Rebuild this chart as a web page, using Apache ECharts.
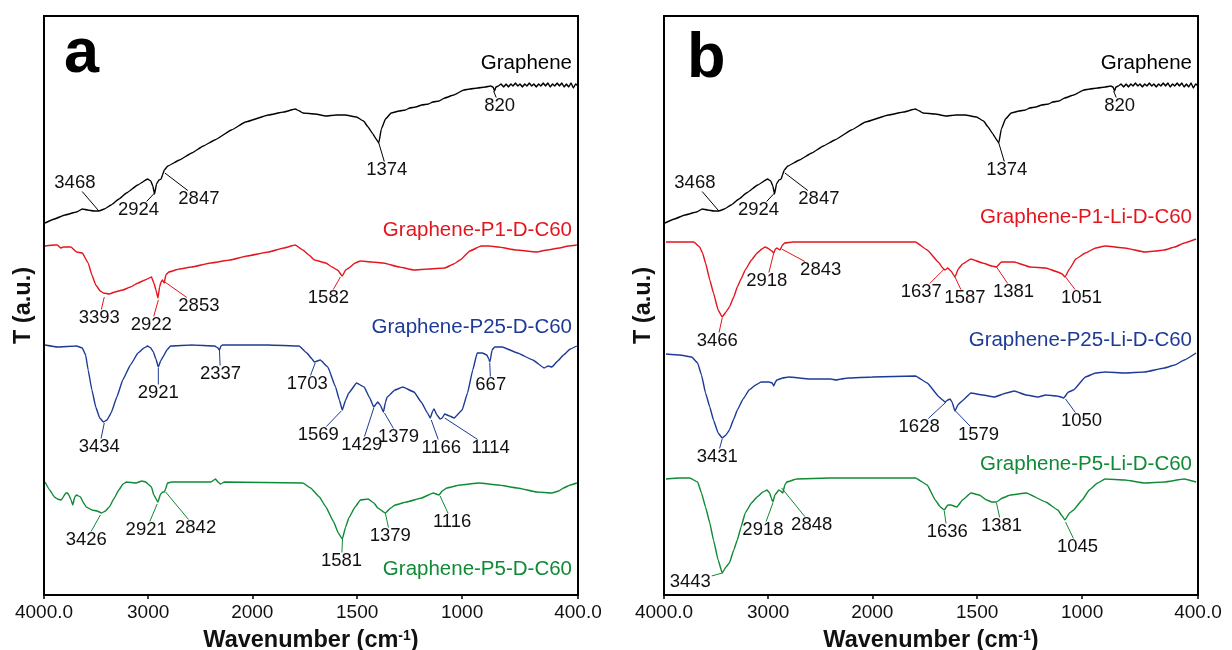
<!DOCTYPE html>
<html>
<head>
<meta charset="utf-8">
<script src="https://cdn.jsdelivr.net/npm/echarts@6/dist/echarts.min.js"></script>
<style>
  html, body { margin: 0; padding: 0; background: #fff; }
  #chart { width: 1232px; height: 650px; }
</style>
</head>
<body>
<div id="chart"></div>
<script>
// wavenumber axis ticks
const tickWaves = [4000, 3000, 2000, 1500, 1000, 400];
const tickLabels = ['4000.0', '3000', '2000', '1500', '1000', '400.0'];

// spectra, [wavenumber (cm-1), T (a.u.)]
const graphene = [
  [3990,372],[3900,376],[3800,380],[3687,383],[3632,386],[3580,385],[3521,384],[3473,384],[3420,386],[3356,390],
  [3280,396],[3208,402],[3100,410],[3005,416],[2975,414],[2955,409],[2938,401],[2920,411],[2895,415],[2875,416],
  [2862,420],[2845,425],[2810,429],[2700,435],[2581,442],[2470,449],[2360,455],[2200,465],[2065,473],[1923,480],
  [1850,483],[1795,486],[1775,484],[1759,482],[1700,481],[1649,479],[1600,480],[1558,480],[1503,478],[1470,474],
  [1448,468],[1425,461],[1410,456],[1397,452],[1385,466],[1365,476],[1338,482],[1300,484],[1270,485],[1250,487],
  [1220,488],[1193,490],[1160,491],[1140,493],[1110,494],[1083,497],[1040,500],[991,505],[960,506],[920,507],
  [880,508],[852,509],[840,508],[832,504],[825,508],[812,509],[798,511],[785,508],[772,511],[760,508],
  [748,511],[736,509],[724,512],[712,509],[700,511],[688,508],[676,511],[664,509],[652,512],[640,509],
  [628,511],[616,508],[604,511],[592,509],[580,512],[568,509],[556,512],[544,508],[532,511],[520,509],
  [508,512],[496,509],[484,512],[472,508],[460,511],[448,508],[436,512],[424,507],[412,511],[400,509]
];
const p1 = [
  [3990,349],[3900,350],[3871,350],[3840,347],[3815,348],[3742,348],[3687,343],[3632,342],[3576,332],[3540,320],
  [3503,310],[3460,304],[3429,302],[3373,301],[3320,303],[3244,305],[3170,308],[3097,312],[3030,315],[2968,318],
  [2945,312],[2925,305],[2905,297],[2890,308],[2876,313],[2862,315],[2846,312],[2830,320],[2802,323],[2700,326],
  [2581,328],[2400,332],[2213,335],[2050,339],[1923,343],[1850,347],[1795,350],[1759,345],[1730,340],[1704,335],
  [1649,332],[1620,328],[1594,325],[1571,319],[1555,325],[1540,327],[1510,332],[1485,334],[1430,333],[1375,332],
  [1300,328],[1229,325],[1160,326],[1083,327],[1040,331],[1010,335],[960,344],[902,349],[860,349],[813,348],
  [720,345],[614,343],[560,345],[496,347],[450,349],[406,350]
];
const p25 = [
  [3990,250],[3871,248],[3687,249],[3632,247],[3600,240],[3576,225],[3540,205],[3503,188],[3465,177],[3429,173],
  [3395,175],[3356,182],[3300,198],[3244,215],[3170,230],[3097,242],[3040,247],[3005,249],[2975,247],[2950,243],
  [2925,236],[2902,228],[2880,234],[2858,238],[2820,245],[2784,249],[2581,250],[2360,249],[2330,247],[2315,245],
  [2300,249],[2286,250],[1923,250],[1777,249],[1740,242],[1715,236],[1704,233],[1676,235],[1640,228],[1603,208],
  [1585,195],[1571,185],[1555,195],[1540,202],[1503,212],[1467,208],[1440,197],[1421,188],[1410,191],[1402,193],
  [1390,190],[1375,183],[1365,193],[1357,198],[1320,205],[1283,208],[1229,203],[1195,193],[1165,182],[1152,177],
  [1140,184],[1134,186],[1120,180],[1105,176],[1095,177],[1083,181],[1060,179],[1038,177],[1000,185],[972,202],
  [945,225],[922,242],[895,242],[872,240],[862,236],[856,233],[845,245],[832,248],[792,248],[713,242],
  [634,235],[575,227],[555,229],[535,228],[505,234],[475,240],[440,246],[406,249]
];
const p5 = [
  [3990,113],[3945,105],[3900,98],[3871,96],[3835,95],[3790,102],[3775,102],[3761,100],[3740,95],[3724,90],
  [3705,98],[3687,100],[3650,98],[3620,92],[3594,88],[3539,85],[3490,84],[3447,82],[3410,84],[3373,88],
  [3330,96],[3282,105],[3240,111],[3208,113],[3116,112],[3060,114],[3023,113],[2990,110],[2968,108],[2945,100],
  [2906,93],[2880,101],[2858,103],[2845,103],[2832,106],[2815,112],[2772,113],[2397,113],[2353,116],[2330,113],
  [2305,111],[2267,113],[1759,112],[1722,107],[1680,98],[1649,88],[1612,73],[1590,62],[1571,56],[1555,68],
  [1540,77],[1510,88],[1485,95],[1448,96],[1420,92],[1402,87],[1366,82],[1340,87],[1320,90],[1265,93],
  [1193,97],[1138,102],[1110,100],[1095,104],[1074,107],[1010,110],[912,112],[813,110],[713,107],[614,103],
  [535,102],[500,104],[475,107],[440,110],[406,112]
];
const p1Li = [
  [3981,353],[3850,353],[3714,353],[3658,348],[3630,342],[3601,332],[3560,315],[3525,302],[3480,285],[3441,278],
  [3405,283],[3372,288],[3330,298],[3296,308],[3260,316],[3220,325],[3160,335],[3106,342],[3060,346],[3030,348],
  [3005,347],[2992,346],[2965,344],[2946,342],[2930,346],[2916,347],[2900,346],[2886,345],[2862,350],[2840,352],
  [2764,353],[2232,353],[1794,353],[1738,345],[1681,332],[1665,327],[1653,325],[1640,327],[1625,324],[1606,318],
  [1590,326],[1570,331],[1530,336],[1474,332],[1430,329],[1408,328],[1385,333],[1323,333],[1248,328],[1173,327],
  [1116,323],[1095,321],[1082,318],[1060,326],[1030,336],[983,342],[930,347],[881,349],[779,347],[676,343],
  [620,344],[574,345],[520,348],[471,352],[410,356]
];
const p25Li = [
  [3981,241],[3850,240],[3734,238],[3677,232],[3640,220],[3601,202],[3560,188],[3525,175],[3480,162],[3441,157],
  [3405,160],[3372,165],[3330,176],[3296,185],[3240,196],[3183,205],[3120,210],[3068,213],[2992,213],[2960,212],
  [2946,209],[2930,213],[2916,215],[2860,217],[2802,218],[2600,216],[2400,216],[2346,215],[2300,216],[2232,217],
  [2000,218],[1794,219],[1738,212],[1681,198],[1665,195],[1653,193],[1640,195],[1629,196],[1620,193],[1606,184],
  [1592,190],[1578,193],[1530,202],[1474,200],[1418,198],[1361,202],[1323,204],[1267,200],[1210,198],[1173,200],
  [1120,199],[1100,198],[1088,197],[1065,203],[1041,205],[983,218],[930,222],[881,223],[779,222],[676,223],
  [574,227],[520,230],[471,235],[410,242]
];
const p5Li = [
  [3981,116],[3850,117],[3753,117],[3677,113],[3640,102],[3601,88],[3560,72],[3525,55],[3480,35],[3441,22],
  [3405,28],[3372,32],[3330,45],[3296,55],[3260,68],[3220,82],[3160,92],[3106,98],[3050,103],[3011,105],
  [2985,102],[2970,97],[2954,93],[2935,100],[2897,105],[2880,104],[2859,102],[2840,110],[2821,113],[2726,116],
  [2400,117],[2300,117],[1794,117],[1738,110],[1700,95],[1675,88],[1657,85],[1640,90],[1625,90],[1597,88],
  [1570,95],[1530,102],[1490,100],[1455,95],[1430,93],[1408,93],[1380,97],[1342,100],[1266,102],[1173,93],
  [1116,85],[1095,79],[1082,75],[1060,82],[1041,85],[1000,95],[963,105],[920,112],[881,116],[779,115],
  [676,112],[574,113],[471,116],[410,113]
];

// peak labels, [text, wavenumber, T] (where the leader meets the curve)
const peaksGraphene = [['3468',3473,384],['2924',2938,402],['2847',2839,422],['1374',1397,452],['820',837,504]];
const peaksP1 = [['3393',3421,298],['2922',2902,295],['2853',2839,313],['1582',1580,318]];
const peaksP25 = [['3434',3421,172],['2921',2902,227],['2337',2315,245],['1703',1700,232],['1569',1576,184],
  ['1429',1421,187],['1379',1370,182],['1166',1147,175],['1114',1083,177],['667',857,232]];
const peaksP5 = [['3426',3459,80],['2921',2913,91],['2842',2832,103],['1581',1570,56],['1379',1366,82],['1116',1105,99]];
const peaksP1Li = [['3466',3441,277],['2918',2946,342],['2843',2870,346],['1637',1657,326],['1587',1606,318],
  ['1381',1408,328],['1051',1079,318]];
const peaksP25Li = [['3431',3441,156],['1628',1648,193],['1579',1603,184],['1050',1079,196]];
const peaksP5Li = [['3443',3441,22],['2918',2954,92],['2848',2870,107],['1636',1657,84],['1381',1408,92],['1045',1079,73]];

const namesA = ['Graphene', 'Graphene-P1-D-C60', 'Graphene-P25-D-C60', 'Graphene-P5-D-C60'];
const namesB = ['Graphene', 'Graphene-P1-Li-D-C60', 'Graphene-P25-Li-D-C60', 'Graphene-P5-Li-D-C60'];

// ---- layout ----
const colors = ['#000000', '#e3151d', '#1d3b96', '#0f8a35'];
const FONT = '"Liberation Sans", Arial, sans-serif';
const PEAK_FS = 18.5;
// label centre offsets from the leader end, px
const offGraphene = [[-24,-28],[-16,17],[34,26],[8,27],[6,15]];
const offP1 = [[-5,21],[-7,25],[34,24],[-12,21]];
const offP25 = [[-5,24],[0,25],[1,24],[-8,21],[-23,24],[-12,37],[14,24],[10,28],[46,30],[1,22]];
const offP5 = [[-14,25],[-11,26],[30,36],[-1,22],[5,23],[12,26]];
const offP1Li = [[-5,23],[-7,28],[39,21],[-23,23],[10,21],[17,25],[16,21]];
const offP25Li = [[-5,18],[-27,25],[23,24],[16,22]];
const offP5Li = [[-32,9],[-10,27],[30,37],[3,21],[5,23],[12,25]];
// series name anchors (right aligned), [wavenumber, T]
const nameSpotsA = [[431,532],[431,365],[431,268],[431,26]];
const nameSpotsB = [[431,532],[431,378],[431,255],[431,131]];

// split axis as printed: 4000-2000 compressed
const axisStops = [[4000, 0], [2000, 0.39], [1000, 0.783], [400, 1]];
function ax(w) {
  for (let i = 0; i < axisStops.length - 1; i++) {
    const [w0, u0] = axisStops[i], [w1, u1] = axisStops[i + 1];
    if (w >= w1) return u0 + (w0 - w) / (w0 - w1) * (u1 - u0);
  }
  return 1;
}
const tickPos = tickWaves.map(ax);

function peakSeries(g, peaks, offs, color) {
  return {
    type: 'custom', xAxisIndex: g, yAxisIndex: g, silent: true, clip: false, z: 5,
    data: peaks.map(p => [ax(p[1]), p[2]]),
    renderItem(params, api) {
      const i = params.dataIndex;
      const text = peaks[i][0];
      const p = api.coord([api.value(0), api.value(1)]);
      const [dx, dy] = offs[i];
      const c = [p[0] + dx, p[1] + dy];
      const hw = text.length * 0.556 * PEAK_FS / 2 + 1, hh = 8.5;
      const t = Math.min(dx ? hw / Math.abs(dx) : Infinity, dy ? hh / Math.abs(dy) : Infinity);
      const children = [{
        type: 'text',
        style: { text: text, x: c[0], y: c[1], align: 'center', verticalAlign: 'middle',
                 font: PEAK_FS + 'px ' + FONT, fill: '#111' }
      }];
      if (t < 1) {
        children.push({
          type: 'line',
          shape: { x1: p[0], y1: p[1], x2: c[0] - dx * t, y2: c[1] - dy * t },
          style: { stroke: color, lineWidth: 1 }
        });
      }
      return { type: 'group', children: children };
    }
  };
}

function nameSeries(g, names, spots) {
  return {
    type: 'custom', xAxisIndex: g, yAxisIndex: g, silent: true, clip: false, z: 5,
    data: spots.map(s => [ax(s[0]), s[1]]),
    renderItem(params, api) {
      const i = params.dataIndex;
      const p = api.coord([api.value(0), api.value(1)]);
      return {
        type: 'text',
        style: { text: names[i], x: p[0], y: p[1], align: 'right', verticalAlign: 'middle',
                 font: '20.5px ' + FONT, fill: colors[i] }
      };
    }
  };
}

function lineSeries(g, data, color) {
  return {
    type: 'line', xAxisIndex: g, yAxisIndex: g, showSymbol: false, silent: true,
    smooth: 0.1, smoothMonotone: 'x',
    lineStyle: { color: color, width: 1.4 },
    data: data.map(d => [ax(d[0]), d[1]])
  };
}

function xAxisFor(g) {
  return {
    type: 'value', gridIndex: g, min: 0, max: 1,
    axisLine: { show: true, lineStyle: { color: '#000', width: 2 } },
    axisTick: { show: true, length: 4, customValues: tickPos, lineStyle: { color: '#000', width: 1.5 } },
    axisLabel: {
      customValues: tickPos, margin: 8, color: '#111', fontSize: 19, fontFamily: FONT,
      formatter: v => {
        const k = tickPos.findIndex(t => Math.abs(t - v) < 1e-4);
        return k >= 0 ? tickLabels[k] : '';
      }
    },
    splitLine: { show: false },
    name: '{t|Wavenumber (cm}{s|-1}{t|)}', nameLocation: 'middle', nameGap: 34,
    nameTextStyle: {
      rich: {
        t: { fontSize: 23.5, fontWeight: 'bold', fontFamily: FONT, color: '#111' },
        s: { fontSize: 14, fontWeight: 'bold', fontFamily: FONT, color: '#111', verticalAlign: 'top', padding: [0, 0, 10, 0] }
      }
    }
  };
}

function yAxisFor(g) {
  return {
    type: 'value', gridIndex: g, min: 0, max: 579,
    axisLine: { show: false }, axisTick: { show: false }, axisLabel: { show: false }, splitLine: { show: false },
    name: 'T (a.u.)', nameLocation: 'middle', nameGap: 8,
    nameTextStyle: { fontSize: 23.5, fontWeight: 'bold', fontFamily: FONT, color: '#111' }
  };
}

const gridBase = { top: 16, width: 534, height: 579, show: true, borderColor: '#000', borderWidth: 2,
                   backgroundColor: 'transparent', containLabel: false, outerBoundsMode: 'none' };

const chart = echarts.init(document.getElementById('chart'), null, { renderer: 'canvas' });
chart.setOption({
  animation: false,
  backgroundColor: '#fff',
  grid: [
    Object.assign({ left: 44 }, gridBase),
    Object.assign({ left: 664 }, gridBase)
  ],
  xAxis: [xAxisFor(0), xAxisFor(1)],
  yAxis: [yAxisFor(0), yAxisFor(1)],
  graphic: [
    { type: 'text', style: { text: 'a', x: 64, y: 55, verticalAlign: 'middle', font: 'bold 63px ' + FONT, fill: '#000' } },
    { type: 'text', style: { text: 'b', x: 687, y: 60, verticalAlign: 'middle', font: 'bold 63px ' + FONT, fill: '#000' } }
  ],
  series: [
    lineSeries(0, graphene, colors[0]),
    lineSeries(0, p1, colors[1]),
    lineSeries(0, p25, colors[2]),
    lineSeries(0, p5, colors[3]),
    lineSeries(1, graphene, colors[0]),
    lineSeries(1, p1Li, colors[1]),
    lineSeries(1, p25Li, colors[2]),
    lineSeries(1, p5Li, colors[3]),
    peakSeries(0, peaksGraphene, offGraphene, colors[0]),
    peakSeries(0, peaksP1, offP1, colors[1]),
    peakSeries(0, peaksP25, offP25, colors[2]),
    peakSeries(0, peaksP5, offP5, colors[3]),
    peakSeries(1, peaksGraphene, offGraphene, colors[0]),
    peakSeries(1, peaksP1Li, offP1Li, colors[1]),
    peakSeries(1, peaksP25Li, offP25Li, colors[2]),
    peakSeries(1, peaksP5Li, offP5Li, colors[3]),
    nameSeries(0, namesA, nameSpotsA),
    nameSeries(1, namesB, nameSpotsB)
  ]
});
</script>
</body>
</html>
